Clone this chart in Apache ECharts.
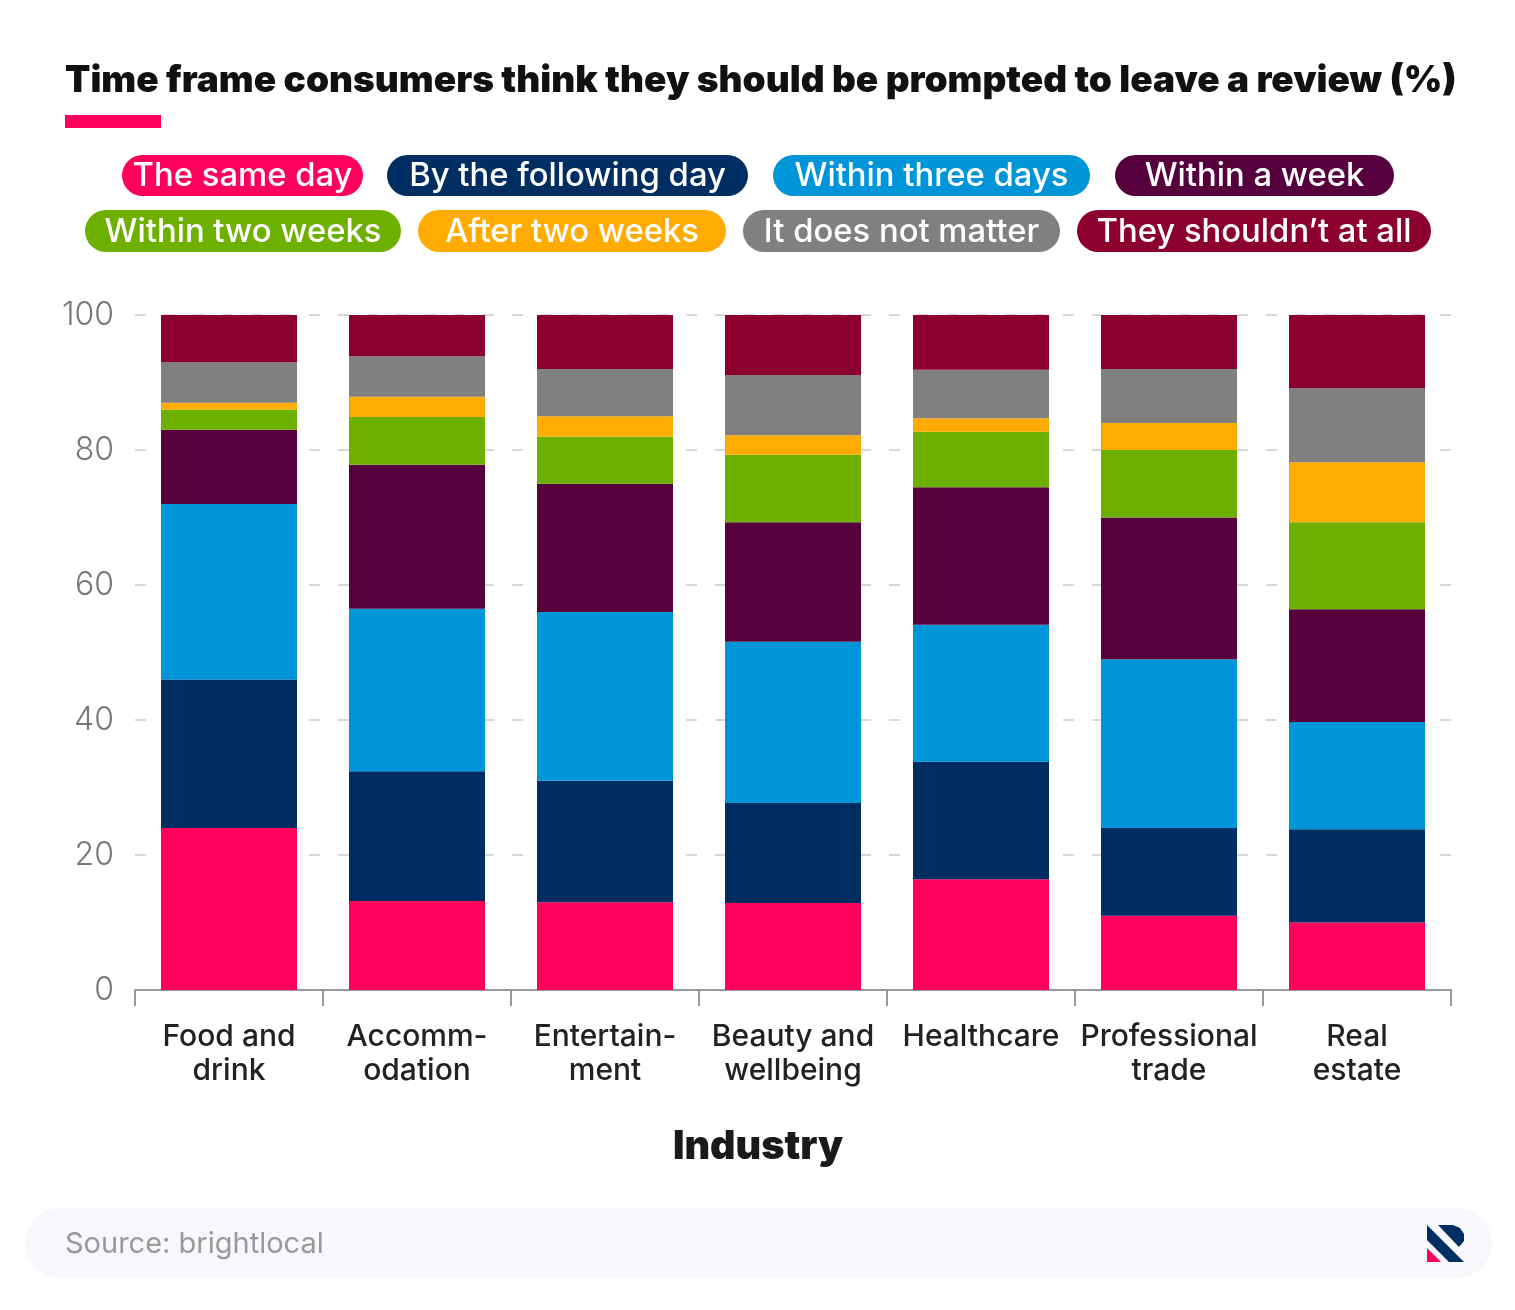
<!DOCTYPE html>
<html>
<head>
<meta charset="utf-8">
<script src="https://cdn.jsdelivr.net/npm/echarts@6/dist/echarts.min.js"></script>
<style>
html,body{margin:0;padding:0;background:#fff}
#main{width:1515px;height:1310px}
</style>
</head>
<body>
<div id="main"></div>
<script>
"use strict";
var categories = ["Food and\ndrink", "Accomm-\nodation", "Entertain-\nment", "Beauty and\nwellbeing", "Healthcare", "Professional\ntrade", "Real\nestate"];
var seriesNames = ["The same day", "By the following day", "Within three days", "Within a week", "Within two weeks", "After two weeks", "It does not matter", "They shouldn\u2019t at all"];
var seriesColors = ["#ff005c", "#002d62", "#0094d9", "#56003e", "#6db000", "#ffab00", "#808080", "#8c0030"];

var sameDay = [24, 13.2, 13, 12.9, 16.4, 11, 10];
var followingDay = [22, 19.2, 18, 14.8, 17.4, 13, 13.8];
var threeDays = [26, 24.1, 25, 23.9, 20.3, 25, 15.9];
var oneWeek = [11, 21.3, 19, 17.7, 20.4, 21, 16.7];
var twoWeeks = [3, 7.1, 7, 10, 8.2, 10, 12.9];
var afterTwoWeeks = [1, 3, 3, 2.9, 2, 4, 8.9];
var notMatter = [6, 6, 7, 8.9, 7.2, 8, 11];
var notAtAll = [7, 6.1, 8, 8.9, 8.1, 8, 10.8];
var allValues = [sameDay, followingDay, threeDays, oneWeek, twoWeeks, afterTwoWeeks, notMatter, notAtAll];

var fontName = "Inter";
var chartDom = document.getElementById("main");
var myChart = echarts.init(chartDom);

// legend pills: x, y, width, height
var pills = [
    [122, 155, 241, 41], [387, 155, 361, 41], [773, 155, 317, 41], [1115, 155, 279, 41],
    [85, 210, 316, 42], [418, 210, 308, 42], [743, 210, 317, 42], [1077, 210, 354, 42]
];

var graphics = [
    { type: "rect", shape: { x: 65, y: 115, width: 96, height: 13 }, style: { fill: "#ff005c" } },
    { type: "rect", shape: { x: 25, y: 1208, width: 1467, height: 70, r: 35 }, style: { fill: "#f7f7fc" } },
    { type: "text", x: 65, y: 1244, style: { text: "Source: brightlocal", fill: "#999999", font: "400 29px " + fontName, textVerticalAlign: "middle" } },
    { type: "text", x: 758, y: 1147, style: { text: "Industry", fill: "#1a1a1a", font: "900 39.5px " + fontName, textAlign: "center", textVerticalAlign: "middle" } },
    // logo
    { type: "polygon", shape: { points: [[1427, 1225], [1427, 1240], [1449, 1262], [1464, 1262]] }, style: { fill: "#002d62" } },
    { type: "polygon", shape: { points: [[1438, 1225], [1453, 1225], [1460, 1228], [1464, 1234], [1464, 1241], [1459, 1247]] }, style: { fill: "#002d62" } },
    { type: "polygon", shape: { points: [[1427, 1248], [1427, 1262], [1441, 1262]] }, style: { fill: "#ff005c" } }
];

seriesNames.forEach(function (name, i) {
    var p = pills[i];
    graphics.push({ type: "rect", shape: { x: p[0], y: p[1], width: p[2], height: p[3], r: p[3] / 2 }, style: { fill: seriesColors[i] } });
    graphics.push({ type: "text", x: p[0] + p[2] / 2, y: p[1] + p[3] / 2 + 1, style: { text: name, fill: "#ffffff", font: "500 32.8px " + fontName, textAlign: "center", textVerticalAlign: "middle" } });
});

var option = {
    animation: false,
    backgroundColor: "#ffffff",
    title: {
        text: "Time frame consumers think they should be prompted to leave a review (%)",
        left: 65,
        top: 62,
        padding: 0,
        textStyle: { fontFamily: fontName, fontWeight: 900, fontSize: 37, color: "#111111" }
    },
    grid: { left: 135, top: 315, width: 1316, height: 675, containLabel: false },
    xAxis: {
        type: "category",
        data: categories,
        axisLine: { lineStyle: { color: "#999999", width: 2 } },
        axisTick: { show: true, length: 16, lineStyle: { color: "#999999", width: 2 } },
        axisLabel: { margin: 30, fontFamily: fontName, fontWeight: 500, fontSize: 30, lineHeight: 34, color: "#222222", interval: 0 }
    },
    yAxis: {
        type: "value",
        min: 0,
        max: 100,
        interval: 20,
        axisLine: { show: false },
        axisTick: { show: false },
        axisLabel: { margin: 21, fontFamily: fontName, fontWeight: 300, fontSize: 32, color: "#777777" },
        splitLine: { lineStyle: { color: "#cccccc", width: 1.5, type: [11, 18] } }
    },
    series: seriesNames.map(function (name, i) {
        return {
            name: name,
            type: "bar",
            stack: "total",
            barWidth: 136,
            itemStyle: { color: seriesColors[i] },
            data: allValues[i]
        };
    }),
    graphic: graphics
};
myChart.setOption(option);
</script>
</body>
</html>
